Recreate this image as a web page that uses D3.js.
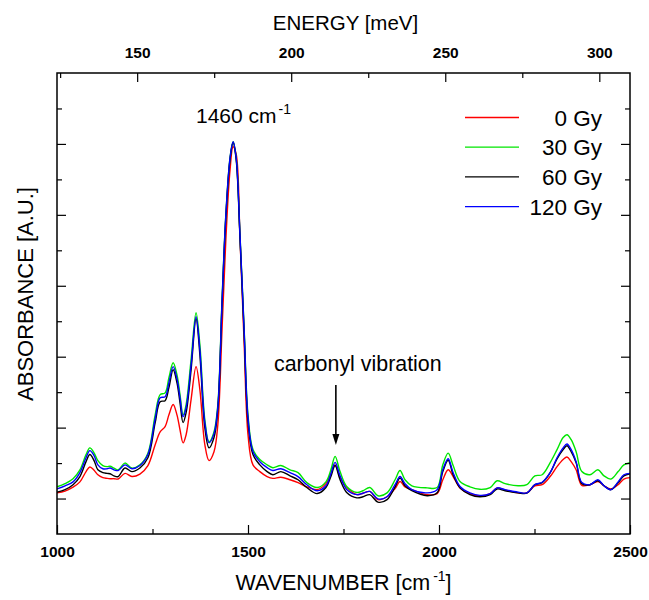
<!DOCTYPE html>
<html>
<head>
<meta charset="utf-8">
<script src="https://cdn.jsdelivr.net/npm/d3@7"></script>
<style>
  html, body { margin: 0; padding: 0; background: #fff; }
  svg { display: block; }
  text { font-family: Arial, "Liberation Sans", sans-serif; fill: #000; }
</style>
</head>
<body>
<svg id="chart" width="649" height="600"></svg>
<script>
// ---- data ----
const wavenumber = [1000,1021,1042,1060,1076,1086,1097,1107,1120,1131,1139,1149,1160,1178,1196,1217,1238,1257,1270,1283,1293,1304,1314,1322,1330,1338,1351,1364,1374,1387,1398,1411,1421,1432,1442,1453,1461,1469,1479,1490,1500,1513,1531,1550,1565,1586,1610,1631,1654,1681,1704,1717,1728,1741,1759,1785,1801,1819,1840,1864,1885,1898,1911,1929,1969,1995,2010,2024,2037,2055,2081,2107,2134,2152,2173,2207,2230,2251,2270,2291,2309,2325,2335,2346,2359,2374,2395,2416,2432,2450,2469,2484,2500];

const gy0 = [.116,.121,.132,.147,.176,.189,.180,.167,.159,.157,.156,.156,.155,.171,.162,.169,.193,.252,.288,.303,.336,.365,.336,.294,.257,.280,.379,.472,.407,.252,.207,.232,.308,.576,.830,1.027,1.092,1.072,.836,.534,.280,.195,.176,.162,.157,.160,.153,.145,.133,.125,.142,.170,.195,.159,.131,.111,.115,.120,.097,.105,.128,.148,.133,.125,.111,.114,.153,.181,.162,.130,.114,.107,.114,.130,.124,.116,.116,.136,.139,.162,.190,.210,.217,.204,.181,.137,.139,.148,.136,.127,.139,.155,.159];

const gy30 = [.133,.142,.156,.181,.224,.243,.229,.207,.193,.190,.191,.186,.181,.200,.186,.195,.228,.336,.393,.398,.441,.483,.449,.393,.336,.365,.492,.624,.534,.322,.260,.288,.365,.661,.900,1.061,1.106,1.061,.844,.576,.336,.238,.210,.195,.187,.193,.181,.173,.145,.131,.147,.181,.219,.176,.133,.117,.122,.131,.108,.116,.153,.179,.153,.136,.130,.131,.195,.228,.193,.148,.133,.126,.131,.150,.142,.136,.139,.164,.167,.201,.238,.272,.280,.266,.232,.176,.167,.181,.164,.155,.176,.195,.201];

const gy60 = [.118,.125,.139,.162,.204,.224,.207,.181,.173,.171,.170,.164,.162,.186,.176,.186,.215,.314,.373,.376,.413,.463,.427,.370,.314,.342,.463,.607,.506,.300,.243,.272,.351,.647,.892,1.056,1.104,1.056,.836,.562,.317,.224,.195,.176,.167,.176,.164,.153,.131,.114,.131,.162,.193,.153,.116,.102,.105,.111,.090,.097,.133,.158,.136,.122,.108,.116,.176,.208,.167,.130,.111,.105,.111,.127,.122,.116,.115,.139,.145,.173,.212,.238,.249,.232,.201,.142,.139,.150,.136,.125,.145,.164,.170];

const gy120 = [.127,.136,.147,.173,.215,.235,.221,.195,.184,.184,.186,.181,.179,.195,.184,.193,.224,.325,.384,.387,.427,.472,.438,.384,.331,.356,.477,.613,.520,.314,.257,.283,.359,.655,.900,1.061,1.106,1.061,.844,.571,.328,.232,.204,.187,.179,.184,.173,.162,.139,.122,.136,.170,.202,.164,.125,.111,.115,.120,.099,.105,.139,.162,.142,.125,.116,.125,.181,.212,.173,.134,.116,.109,.114,.130,.125,.118,.116,.139,.146,.173,.215,.243,.254,.238,.204,.145,.139,.153,.136,.125,.147,.167,.171];

const seriesNames  = ["0 Gy", "30 Gy", "60 Gy", "120 Gy"];
const seriesValues = [gy0, gy30, gy60, gy120];
const seriesColors = ["#ff0000", "#00e600", "#000000", "#0000ff"];
const drawOrder    = [0, 1, 2, 3];

const xMajorTicks = [1000, 1500, 2000, 2500];
const xMinorTicks = [1250, 1750, 2250];
const eMajorTicks = [150, 200, 250, 300];
const eMinorTicks = [125, 175, 225, 275];
const yMajorTicks = [0.1, 0.3, 0.5, 0.7, 0.9, 1.1];
const yMinorTicks = [0.2, 0.4, 0.6, 0.8, 1.0, 1.2];
const meVperCm = 0.123984;

// ---- layout ----
const svg = d3.select("#chart");
const L = 57, R = 630, T = 73, B = 534;

const x = d3.scaleLinear().domain([1000, 2500]).range([L, R]);
const xe = d3.scaleLinear().domain([1000 * meVperCm, 2500 * meVperCm]).range([L, R]);
const y = d3.scaleLinear().domain([0, 1.3]).range([B, T]);

svg.append("defs").append("clipPath").attr("id", "clip")
  .append("rect").attr("x", L).attr("y", T).attr("width", R - L).attr("height", B - T);

// curves
const line = d3.line()
  .x(d => x(d[0])).y(d => y(d[1]))
  .curve(d3.curveCatmullRom.alpha(0.5));

const g = svg.append("g").attr("clip-path", "url(#clip)");
drawOrder.forEach(i => {
  g.append("path")
    .datum(d3.zip(wavenumber, seriesValues[i]))
    .attr("fill", "none")
    .attr("stroke", seriesColors[i])
    .attr("stroke-width", 1.4)
    .attr("stroke-linejoin", "round")
    .attr("d", line);
});

// axes (ticks inward)
const tickFont = g => g.selectAll("text")
  .style("font-family", "Arial, 'Liberation Sans', sans-serif")
  .style("font-weight", "bold").style("font-size", "15.5px").attr("fill", "#000");
const clean = g => { g.select(".domain").remove(); g.selectAll("line").attr("stroke", "#000").attr("stroke-width", 1.2); };

svg.append("g").attr("transform", `translate(0,${B})`)
  .call(d3.axisBottom(x).tickValues(xMajorTicks).tickSizeInner(-9).tickSizeOuter(0).tickPadding(12).tickFormat(d3.format("d")))
  .call(clean).call(tickFont);
svg.append("g").attr("transform", `translate(0,${B})`)
  .call(d3.axisBottom(x).tickValues(xMinorTicks).tickSizeInner(-5).tickSizeOuter(0).tickFormat(""))
  .call(clean);

svg.append("g").attr("transform", `translate(0,${T})`)
  .call(d3.axisTop(xe).tickValues(eMajorTicks).tickSizeInner(-9).tickSizeOuter(0).tickPadding(15).tickFormat(d3.format("d")))
  .call(clean).call(tickFont);
svg.append("g").attr("transform", `translate(0,${T})`)
  .call(d3.axisTop(xe).tickValues(eMinorTicks).tickSizeInner(-5).tickSizeOuter(0).tickFormat(""))
  .call(clean);

[[d3.axisLeft, L], [d3.axisRight, R]].forEach(([ax, pos]) => {
  svg.append("g").attr("transform", `translate(${pos},0)`)
    .call(ax(y).tickValues(yMajorTicks).tickSizeInner(-9).tickSizeOuter(0).tickFormat(""))
    .call(clean);
  svg.append("g").attr("transform", `translate(${pos},0)`)
    .call(ax(y).tickValues(yMinorTicks).tickSizeInner(-5).tickSizeOuter(0).tickFormat(""))
    .call(clean);
});

// frame
svg.append("rect").attr("x", L).attr("y", T).attr("width", R - L).attr("height", B - T)
  .attr("fill", "none").attr("stroke", "#000").attr("stroke-width", 1.5);

// axis titles
svg.append("text").attr("x", (L + R) / 2 + 2).attr("y", 30).attr("text-anchor", "middle")
  .style("font-size", "20.5px").text("ENERGY [meV]");

const xt = svg.append("text").attr("x", (L + R) / 2).attr("y", 590).attr("text-anchor", "middle")
  .style("font-size", "21.5px");
xt.append("tspan").text("WAVENUMBER [cm");
xt.append("tspan").attr("dx", 3).attr("dy", -9).style("font-size", "14px").text("-1");
xt.append("tspan").attr("dy", 9).text("]");

svg.append("text").attr("transform", "translate(33,294) rotate(-90)").attr("text-anchor", "middle")
  .style("font-size", "22px").text("ABSORBANCE [A.U.]");

// annotations
const pk = svg.append("text").attr("x", 196).attr("y", 123).style("font-size", "21px");
pk.append("tspan").text("1460 cm");
pk.append("tspan").attr("dx", 2).attr("dy", -9).style("font-size", "14px").text("-1");

svg.append("text").attr("x", 274).attr("y", 371).style("font-size", "21.4px").text("carbonyl vibration");

svg.append("line").attr("x1", x(1730)).attr("x2", x(1730)).attr("y1", 385).attr("y2", 436)
  .attr("stroke", "#000").attr("stroke-width", 1.6);
svg.append("path")
  .attr("d", `M${x(1730) - 3.5},434 L${x(1730) + 3.5},434 L${x(1730)},445 Z`)
  .attr("fill", "#000");

// legend
const lg = svg.append("g");
seriesNames.forEach((name, i) => {
  const yy = 117.5 + i * 29.7;
  lg.append("line").attr("x1", 465).attr("x2", 519).attr("y1", yy).attr("y2", yy)
    .attr("stroke", seriesColors[i]).attr("stroke-width", 1.3);
  lg.append("text").attr("x", 602).attr("y", yy + 8).attr("text-anchor", "end")
    .style("font-size", "22.5px").text(name);
});
</script>
</body>
</html>
